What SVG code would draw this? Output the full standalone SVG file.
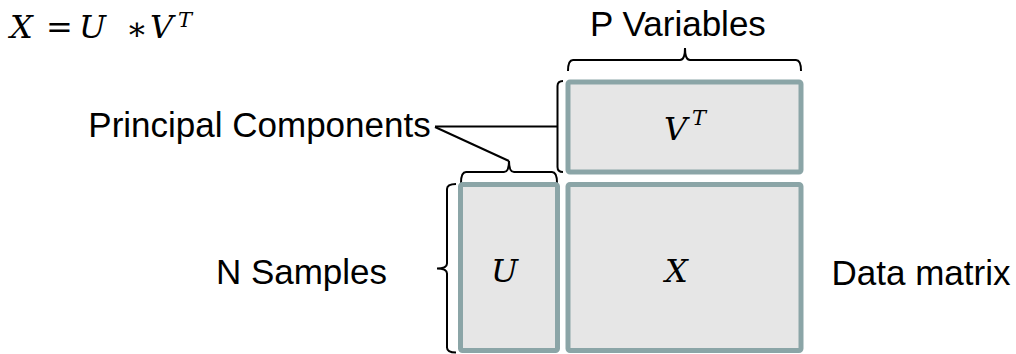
<svg xmlns="http://www.w3.org/2000/svg" width="1016" height="354" viewBox="0 0 1016 354">
  <style>
    .lbl { font-family: "Liberation Sans", Arial, sans-serif; font-size: 35px; fill: #000; }
    .math { font-family: "DejaVu Serif", "Liberation Serif", serif; font-style: italic; font-size: 32px; fill: #000; }
    .op { font-family: "DejaVu Serif", "Liberation Serif", serif; font-size: 32px; fill: #000; }
    .sup { font-family: "DejaVu Serif", "Liberation Serif", serif; font-style: italic; font-size: 21px; fill: #000; }
    .box { fill: #e6e6e6; stroke: #8ba5a7; stroke-width: 5; }
    .br { fill: none; stroke: #000; stroke-width: 2; }
  </style>
  <rect width="1016" height="354" fill="#ffffff"/>

  <g id="formula">
    <text class="math" x="10" y="38">X</text>
    <text class="op" x="46" y="38">=</text>
    <text class="math" x="79" y="38">U</text>
    <text class="op" x="126" y="40">∗</text>
    <text class="math" x="150" y="38">V</text>
    <text class="sup" x="178" y="27">T</text>
  </g>

  <g id="connectors">
    <path class="br" d="M568,71 Q568,60 573,60 L680,60 Q685,60 685,48 Q685,60 690,60 L796,60 Q801,60 801,71"/>
    <path class="br" d="M563,81 Q557.5,81 557.5,86 L557.5,167 Q557.5,172 563,172"/>
    <path class="br" d="M435,126.5 L557.5,126.5"/>
    <path class="br" d="M435,127 L509,161"/>
    <path class="br" d="M461,183 Q461,172 466,172 L504,172 Q509,172 509,161 Q509,172 514,172 L552,172 Q557,172 557,183"/>
    <path class="br" d="M456,184 Q447,184 447,189 L447,263.5 Q447,268.5 437,268.5 Q447,268.5 447,273.5 L447,347.5 Q447,352.5 456,352.5"/>
  </g>

  <g id="p-variables">
    <text class="lbl" x="678" y="36" text-anchor="middle">P Variables</text>
  </g>
  <g id="principal-components">
    <text class="lbl" x="259.5" y="137" text-anchor="middle">Principal Components</text>
  </g>
  <g id="n-samples">
    <text class="lbl" x="301.5" y="284" text-anchor="middle">N Samples</text>
  </g>
  <g id="data-matrix">
    <text class="lbl" x="921" y="285" text-anchor="middle">Data matrix</text>
  </g>

  <g id="box-vt">
    <rect class="box" x="568" y="82" width="233" height="90" rx="2"/>
    <text class="math" x="664" y="140">V</text>
    <text class="sup" x="692" y="125">T</text>
  </g>
  <g id="box-u">
    <rect class="box" x="460.5" y="184.5" width="97" height="166" rx="2"/>
    <text class="math" x="491" y="282">U</text>
  </g>
  <g id="box-x">
    <rect class="box" x="568" y="184.5" width="233" height="166" rx="2"/>
    <text class="math" x="665" y="282">X</text>
  </g>
</svg>
